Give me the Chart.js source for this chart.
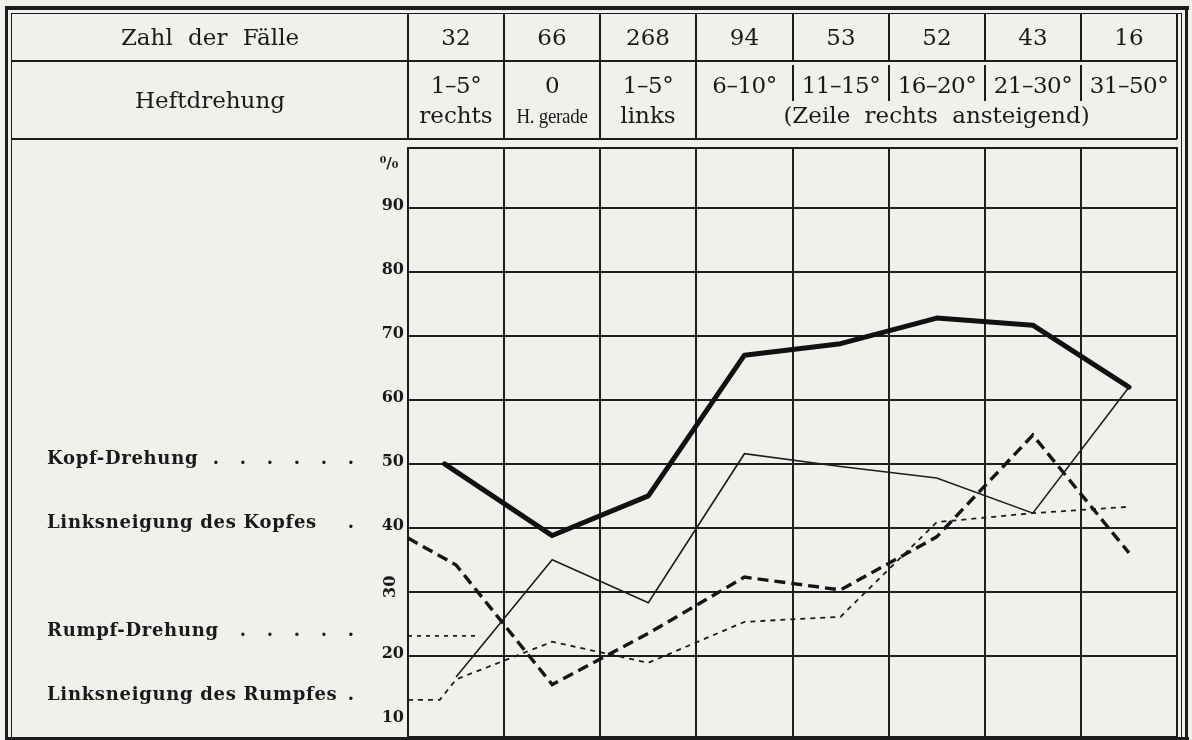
<!DOCTYPE html>
<html>
<head>
<meta charset="utf-8">
<script src="https://cdn.jsdelivr.net/npm/chart.js@4.4.1/dist/chart.umd.min.js"></script>
<style>
  html, body { margin: 0; padding: 0; background: #f0f0ed; }
  #wrap { position: relative; width: 1192px; height: 740px; overflow: hidden; background: #f0f0ed; }
  #c { position: absolute; left: 0; top: 0; }
  .t { position: absolute; text-align: center; white-space: nowrap; color: #1a1a1a;
       font-family: "DejaVu Serif", "Liberation Serif", serif; font-size: 23px; word-spacing: 5px; }
  .ln { position: absolute; background: #1c1c1c; }
</style>
</head>
<body>
<div id="wrap">
  <canvas id="c" width="1192" height="740"></canvas>
</div>
<script>
// ---------- data ----------
const categories   = ['1–5° rechts', '0 H. gerade', '1–5° links', '6–10°', '11–15°', '16–20°', '21–30°', '31–50°'];
const faelle       = [32, 66, 268, 94, 53, 52, 43, 16];
const heftOben     = ['1–5°', '0', '1–5°', '6–10°', '11–15°', '16–20°', '21–30°', '31–50°'];
const heftUnten    = ['rechts', 'H. gerade', 'links'];
const heftZusatz   = '(Zeile rechts ansteigend)';

const kopfDrehung  = [50, 38.8, 45, 67, 68.8, 72.8, 71.7, 62];
const linksKopf    = [16.7, 35, 28.3, 51.6, 49.6, 47.8, 42.3, 62];
const rumpfDrehung = [34.2, 15.5, 23.5, 32.3, 30.3, 38.6, 54.5, 36.1];
const linksRumpf   = [16.3, 22.2, 18.9, 25.3, 26.1, 40.9, 42.3, 43.3];

// values at the left edge of the grid (x in column units)
const kopfDrehungRand  = [[0.38, 50]];
const rumpfDrehungRand = [[0, 38.4]];
const linksRumpfRand   = [[0, 13.1], [0.33, 13.1]];
const rumpfMarke       = [[0, 23.1], [0.75, 23.1]];

const yTicks   = [10, 20, 30, 40, 50, 60, 70, 80, 90];
const legendNames  = ['Kopf-Drehung', 'Linksneigung des Kopfes', 'Rumpf-Drehung', 'Linksneigung des Rumpfes'];
const legendLevels = [50, 40, 23.1, 13.1];
const legendDots   = [6, 1, 5, 1];

// ---------- helpers ----------
const ink = '#1a1a1a';
const centers = categories.map((c, i) => i + 0.5);
const pts = arr => arr.map((v, i) => ({ x: centers[i], y: v }));
const pairs = arr => arr.map(p => ({ x: p[0], y: p[1] }));

const textPlugin = {
  id: 'texts',
  afterDraw(chart) {
    const { ctx, chartArea: a, scales: { y } } = chart;
    ctx.save();
    // frame of plot
    ctx.strokeStyle = ink; ctx.lineWidth = 2;
    ctx.strokeRect(a.left, a.top, a.right - a.left, a.bottom - a.top);
    // tick labels
    ctx.fillStyle = ink;
    ctx.font = 'bold 16px "DejaVu Serif"';
    yTicks.forEach(v => {
      const py = y.getPixelForValue(v);
      if (v === 30) {
        ctx.save();
        ctx.translate(391, py - 5);
        ctx.rotate(-Math.PI / 2);
        ctx.textAlign = 'center'; ctx.textBaseline = 'middle';
        ctx.fillText(String(v), 0, 0);
        ctx.restore();
      } else {
        ctx.textAlign = 'right'; ctx.textBaseline = 'alphabetic';
        ctx.fillText(String(v), 404, py + 2);
      }
    });
    ctx.textAlign = 'center'; ctx.textBaseline = 'middle';
    ctx.font = 'bold 15px "DejaVu Serif"';
    ctx.fillText('⁰/₀', 389, a.top + 16);
    // left legend
    ctx.font = 'bold 18px "DejaVu Serif"';
    ctx.textBaseline = 'middle';
    legendNames.forEach((n, i) => {
      const py = y.getPixelForValue(legendLevels[i]) - 5;
      ctx.textAlign = 'left';
      try { ctx.letterSpacing = '0.7px'; } catch (e) {}
      ctx.fillText(n, 47, py);
      try { ctx.letterSpacing = '0px'; } catch (e) {}
      ctx.textAlign = 'center';
      for (let k = 0; k < legendDots[i]; k++) {
        ctx.fillText('.', 351 - k * 27, py);
      }
    });
    ctx.restore();
  }
};

const chart = new Chart(document.getElementById('c'), {
  type: 'line',
  data: {
    datasets: [
      { label: 'Kopf-Drehung', data: pairs(kopfDrehungRand).concat(pts(kopfDrehung).slice(1)), borderColor: '#111', borderWidth: 5, borderJoinStyle: 'round', borderCapStyle: 'round' },
      { label: 'Linksneigung des Kopfes', data: pts(linksKopf), borderColor: '#1c1c1c', borderWidth: 1.6 },
      { label: 'Rumpf-Drehung', data: pairs(rumpfDrehungRand).concat(pts(rumpfDrehung)), borderColor: '#151515', borderWidth: 3.4, borderDash: [11, 6] },
      { label: 'Linksneigung des Rumpfes', data: pairs(linksRumpfRand).concat(pts(linksRumpf)), borderColor: '#1c1c1c', borderWidth: 1.8, borderDash: [5, 5] },
      { label: 'Rumpf-Drehung (Marke)', data: pairs(rumpfMarke), borderColor: '#1c1c1c', borderWidth: 1.8, borderDash: [4, 5] }
    ]
  },
  options: {
    responsive: false,
    animation: false,
    events: [],
    elements: { point: { radius: 0 }, line: { tension: 0, fill: false } },
    layout: { padding: { top: 148, right: 15, left: 0, bottom: 0 } },
    plugins: { legend: { display: false }, tooltip: { enabled: false } },
    scales: {
      x: {
        type: 'linear', min: 0, max: categories.length,
        afterBuildTicks: s => { s.ticks = categories.map((c, i) => ({ value: i })).concat([{ value: categories.length }]); },
        ticks: { display: false },
        grid: { color: '#1e1e1e', lineWidth: 2, drawTicks: false },
        border: { display: false },
        afterFit: s => { s.height = 3; }
      },
      y: {
        min: 7.3, max: 99.4,
        afterBuildTicks: s => { s.ticks = yTicks.map(v => ({ value: v })); },
        ticks: { display: false },
        grid: { color: c => (c.tick && c.tick.value === 10) ? 'rgba(0,0,0,0)' : '#1e1e1e', lineWidth: 2, drawTicks: false },
        border: { display: false },
        afterFit: s => { s.width = 408; }
      }
    }
  },
  plugins: [textPlugin]
});

// ---------- header table & frame (HTML) ----------
const wrap = document.getElementById('wrap');
function div(cls, css, text) {
  const d = document.createElement('div');
  d.className = cls; d.style.cssText = css;
  if (text != null) d.textContent = text;
  wrap.appendChild(d); return d;
}
const xs = chart.scales.x;
const px = i => Math.round(xs.getPixelForValue(i));
const L = 12, R = px(categories.length);
const row1Top = 13, row1Bot = 61, row2Bot = 139;

// outer frame
div('ln', `left:5px;top:6px;width:1184px;height:4px;`);
div('ln', `left:${L}px;top:${row1Top}px;width:${1182 - L}px;height:1px;`);
div('ln', `left:5px;top:6px;width:3px;height:734px;`);
div('ln', `left:${L - 1}px;top:${row1Top}px;width:1px;height:727px;`);
div('ln', `left:1185px;top:6px;width:3px;height:734px;`);
div('ln', `left:1181px;top:${row1Top}px;width:1px;height:727px;`);
div('ln', `left:5px;top:737px;width:1184px;height:3px;`);
// header rows
div('ln', `left:${L}px;top:${row1Bot - 1}px;width:${R - L}px;height:2px;`);
div('ln', `left:${L}px;top:${row2Bot - 1}px;width:${R - L}px;height:2px;`);
for (let i = 0; i <= categories.length; i++) {
  const x = px(i);
  div('ln', `left:${x - 1}px;top:${row1Top}px;width:1.5px;height:${row1Bot - row1Top}px;`);
  if (i <= 3 || i === categories.length) {
    div('ln', `left:${x - 1}px;top:${row1Bot}px;width:1.5px;height:${row2Bot - row1Bot}px;`);
  } else {
    div('ln', `left:${x - 1}px;top:${row1Bot + 4}px;width:1.5px;height:36px;`);
  }
}
const cellText = (x0, x1, yc, text, extra = '') =>
  div('t', `left:${x0}px;width:${x1 - x0}px;top:${yc - 15}px;height:30px;line-height:30px;${extra}`, text);

cellText(L, px(0), 37, 'Zahl der Fälle', 'word-spacing:8px;');
cellText(L, px(0), 100, 'Heftdrehung');
faelle.forEach((f, i) => cellText(px(i), px(i + 1), 37, String(f)));
heftOben.forEach((h, i) => cellText(px(i), px(i + 1), 85, h, 'letter-spacing:-0.5px;'));
heftUnten.forEach((h, i) => {
  if (i === 1) cellText(px(i), px(i + 1), 116, h, 'font-family:"Liberation Serif";font-size:19px;letter-spacing:-0.3px;word-spacing:0;transform:scaleY(1.15);');
  else cellText(px(i), px(i + 1), 115, h);
});
cellText(px(3), px(categories.length), 115, heftZusatz, 'word-spacing:7px;');
</script>
</body>
</html>
